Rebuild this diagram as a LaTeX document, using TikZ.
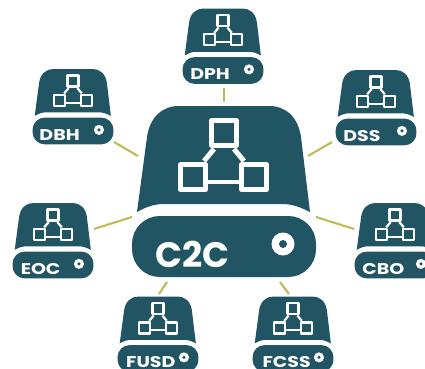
\documentclass[tikz,border=0pt]{standalone}
\usepackage{fontspec}
\setmainfont{Poppins}
\newfontfamily\widelabel[FakeStretch=1.22]{Poppins}
\definecolor{teal}{HTML}{225563}
\definecolor{olive}{HTML}{BDBB5B}
\newlength{\pxu}\setlength{\pxu}{0.5669pt}
\newlength{\tmpl}
\newcommand{\storeicon}[7]{% name, cx, cy, scale, label, font switch, label x
\begin{scope}[shift={(#2,#3)},scale=#4]
\pgfmathsetlength{\tmpl}{#4*28*\pxu}
\fill[teal] (-87,20) -- (-77,-55) .. controls (-74,-75) and (-62,-86) .. (-45,-86) -- (45,-86) .. controls (62,-86) and (74,-75) .. (77,-55) -- (86,20) .. controls (76,15) and (68,12) .. (58,12) -- (-60,12) .. controls (-70,12) and (-78,15) .. (-87,20) -- cycle;
\fill[teal,rounded corners=\tmpl] (-92,24) rectangle (92,85);
\fill[white] (59,52) circle (11.5);
\fill[teal] (59,52) circle (4);
\pgfmathsetlength{\tmpl}{#4*5*\pxu}
\begin{scope}[draw=white,line width=\tmpl,line join=round]
\draw (-12.5,-71.5) rectangle (12.5,-46.5);
\draw (-43.5,-27.5) rectangle (-18.5,-2.5);
\draw (17.5,-27.5) rectangle (42.5,-2.5);
\draw (-16,-10) -- (15,-10);
\draw (-10,-43) -- (-20,-31);
\draw (10,-43) -- (20,-31);
\end{scope}
\pgfmathsetlength{\tmpl}{#4*35.5*\pxu}
\node[anchor=base west,inner sep=0pt,text=white,font=#6\bfseries\fontsize{\tmpl}{\tmpl}\selectfont] (#1) at (#7,75) {#5};
\end{scope}}
\tikzset{link/.style={draw=olive,line width=1.2pt}}
\begin{document}
\begin{tikzpicture}[x=0.02cm,y=-0.02cm]
\clip (0,0) rectangle (425,368);
\fill[white] (0,0) rectangle (425,368);
\storeicon{main}{224}{192}{1}{C2C}{}{-69}
\storeicon{dph}{223}{46.5}{0.44}{DPH}{\widelabel}{-75}
\storeicon{dbh}{73}{107}{0.44}{DBH}{\widelabel}{-77}
\storeicon{dss}{376}{108}{0.44}{DSS}{\widelabel}{-75}
\storeicon{eoc}{53}{241}{0.44}{EOC}{\widelabel}{-74}
\storeicon{cbo}{395}{241}{0.44}{CBO}{\widelabel}{-75}
\storeicon{fusd}{158}{334.5}{0.44}{FUSD}{\widelabel}{-73}
\storeicon{fcss}{293}{334.5}{0.44}{FCSS}{\widelabel}{-70}
\coordinate (a1) at (224,88); \coordinate (a2) at (224,102);
\coordinate (b1) at (114,142); \coordinate (b2) at (138,156);
\coordinate (c1) at (332,142); \coordinate (c2) at (308,156);
\coordinate (d1) at (94,229); \coordinate (d2) at (132,217);
\coordinate (e1) at (354,229); \coordinate (e2) at (316,217);
\coordinate (f1) at (159,294); \coordinate (f2) at (167,282);
\coordinate (g1) at (289,294); \coordinate (g2) at (280,282);
\draw[link] (a1) -- (a2);
\draw[link] (b1) -- (b2);
\draw[link] (c1) -- (c2);
\draw[link] (d1) -- (d2);
\draw[link] (e1) -- (e2);
\draw[link] (f1) -- (f2);
\draw[link] (g1) -- (g2);
\end{tikzpicture}
\end{document}
